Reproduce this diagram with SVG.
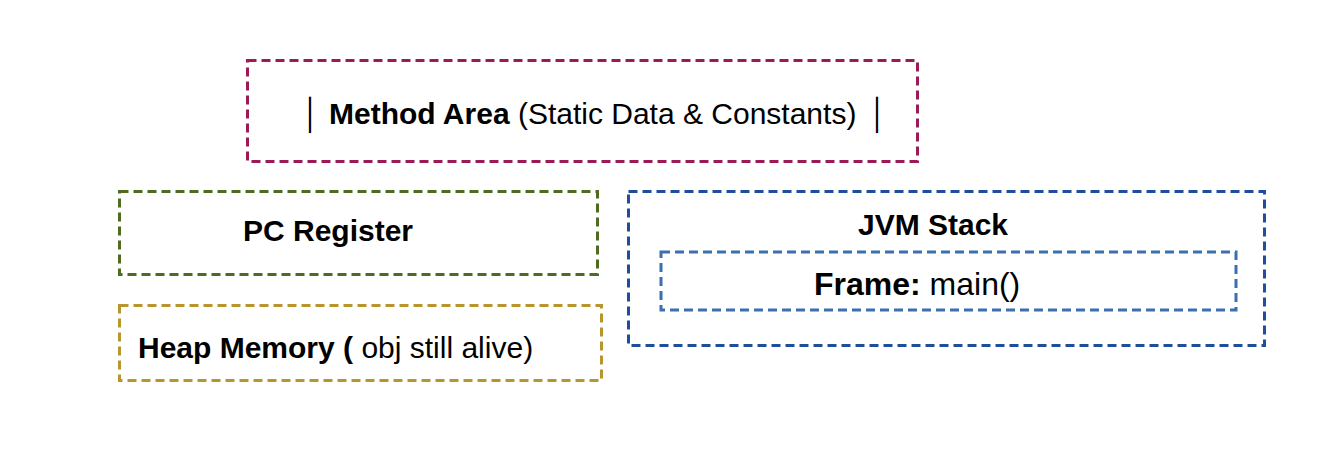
<svg xmlns="http://www.w3.org/2000/svg" width="1324" height="450" viewBox="0 0 1324 450">
<style>
.b{fill:none;stroke-width:3;stroke-dasharray:9,5}
text{font-family:"Liberation Sans",Arial,sans-serif;font-size:30px;fill:#000}
.bd{font-weight:bold}
</style>
<rect width="1324" height="450" fill="#fff"/>
<g id="method-area"><rect class="b" x="247.5" y="60.5" width="670" height="101" stroke="#9c1a55"/>
<text x="302" y="124">│</text>
<text x="329" y="124"><tspan class="bd">Method Area</tspan> (Static Data &amp; Constants)</text>
<text x="869" y="124">│</text></g>
<g id="pc-register"><rect class="b" x="119.5" y="191.5" width="478" height="83" stroke="#4f6b1f"/>
<text class="bd" x="328" y="241" text-anchor="middle">PC Register</text></g>
<g id="heap"><rect class="b" x="119.5" y="305.5" width="482" height="75" stroke="#b8962e"/>
<text x="138" y="358"><tspan class="bd">Heap Memory (</tspan> obj still alive)</text></g>
<g id="jvm-stack"><rect class="b" x="628.5" y="191.5" width="636" height="154" stroke="#1f4e9c"/>
<text class="bd" x="933" y="235" text-anchor="middle">JVM Stack</text></g>
<g id="frame"><rect class="b" x="661" y="252" width="575" height="58" stroke="#3b6fb0"/>
<text x="814" y="295" style="font-size:32px"><tspan class="bd">Frame:</tspan> main()</text></g>
<g id="connectors"/>
</svg>
